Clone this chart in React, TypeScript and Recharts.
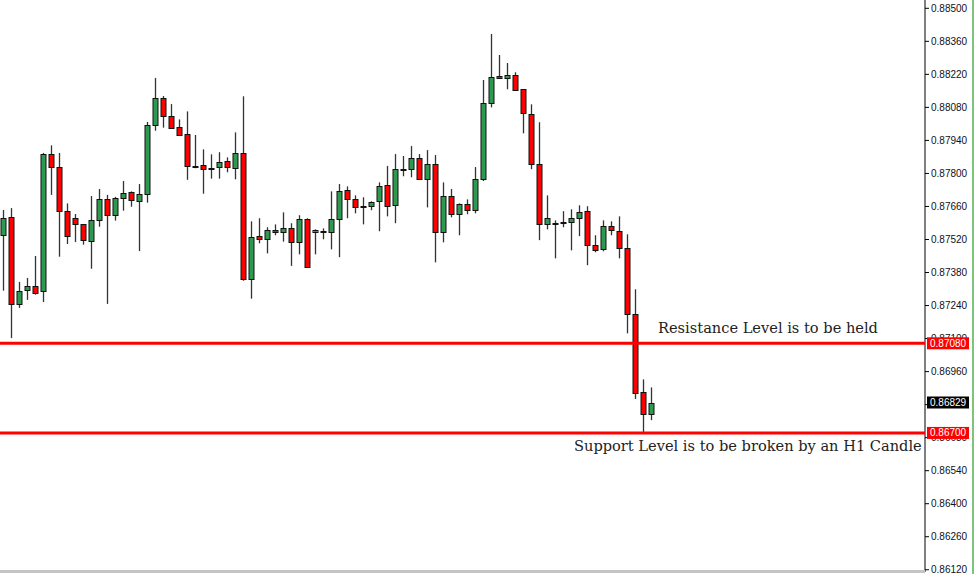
import { ComposedChart, Bar, XAxis, YAxis, ReferenceLine } from "recharts";

// H1 candles
const opens = [
  0.87536, 0.87614, 0.87244, 0.87303, 0.87322, 0.87299, 0.87881, 0.87826, 0.8764, 0.8761,
  0.87584, 0.87511, 0.876, 0.8769, 0.87621, 0.87695, 0.8772, 0.87682, 0.87712, 0.88004,
  0.88118, 0.88042, 0.87996, 0.87966, 0.8783, 0.87834, 0.87822, 0.87826, 0.87851, 0.87822,
  0.87885, 0.87351, 0.87534, 0.87521, 0.87559, 0.8755, 0.87567, 0.87508, 0.87606, 0.8755,
  0.8755, 0.8755, 0.87606, 0.87729, 0.8769, 0.87661, 0.87661, 0.87682, 0.8775, 0.87665,
  0.87813, 0.87818, 0.87864, 0.87775, 0.87839, 0.8755, 0.87703, 0.87627, 0.87669, 0.87644,
  0.87775, 0.88097, 0.88212, 0.88203, 0.88216, 0.88157, 0.88051, 0.87839, 0.87584, 0.87589,
  0.87589, 0.87593, 0.8761, 0.8764, 0.87495, 0.87478, 0.87576, 0.87555, 0.87483, 0.87205,
  0.86875, 0.86781,
];
const highs = [
  0.87645, 0.87653, 0.8734, 0.87357, 0.8745, 0.87887, 0.87919, 0.87887, 0.87673, 0.87628,
  0.87586, 0.87704, 0.87734, 0.87709, 0.87701, 0.87768, 0.87724, 0.87755, 0.88018, 0.88205,
  0.88128, 0.88094, 0.88029, 0.88063, 0.87963, 0.87902, 0.87881, 0.8789, 0.87868, 0.87974,
  0.88127, 0.87597, 0.8761, 0.87572, 0.87584, 0.87635, 0.87589, 0.87623, 0.8761, 0.87563,
  0.87567, 0.87724, 0.87755, 0.87745, 0.87707, 0.87699, 0.87682, 0.87762, 0.87832, 0.87882,
  0.87874, 0.87916, 0.87882, 0.87899, 0.87878, 0.87762, 0.87734, 0.87673, 0.8769, 0.87827,
  0.88196, 0.88391, 0.88302, 0.88268, 0.88229, 0.88157, 0.88093, 0.88017, 0.87707, 0.87601,
  0.8764, 0.87648, 0.87665, 0.87661, 0.87538, 0.87601, 0.87597, 0.87618, 0.87542, 0.87309,
  0.86927, 0.86893,
];
const lows = [
  0.87303, 0.87102, 0.8723, 0.87264, 0.87286, 0.87255, 0.87709, 0.87447, 0.87501, 0.87509,
  0.87498, 0.87396, 0.87574, 0.87247, 0.876, 0.87642, 0.87659, 0.87471, 0.87676, 0.87981,
  0.87994, 0.87991, 0.87962, 0.87773, 0.87822, 0.87714, 0.87778, 0.87778, 0.87805, 0.87775,
  0.87345, 0.87269, 0.87504, 0.87461, 0.87538, 0.87511, 0.87408, 0.87457, 0.87402, 0.87457,
  0.87521, 0.87478, 0.87445, 0.8761, 0.87631, 0.87584, 0.87644, 0.87555, 0.87618, 0.87589,
  0.87788, 0.87784, 0.87775, 0.87656, 0.87423, 0.87508, 0.87614, 0.87538, 0.87627, 0.87631,
  0.87768, 0.8808, 0.88203, 0.88157, 0.88152, 0.8797, 0.87818, 0.87517, 0.87563, 0.8744,
  0.87572, 0.87474, 0.87534, 0.87411, 0.87466, 0.8747, 0.87538, 0.8744, 0.87122, 0.86844,
  0.86703, 0.86754,
];
const closes = [
  0.8761, 0.87244, 0.873, 0.87322, 0.87294, 0.87881, 0.87824, 0.87638, 0.87532, 0.87583,
  0.87515, 0.87601, 0.8769, 0.87621, 0.87695, 0.87716, 0.87686, 0.87712, 0.88004, 0.88118,
  0.88042, 0.87991, 0.87962, 0.8783, 0.87827, 0.87818, 0.87818, 0.87847, 0.87826, 0.87885,
  0.87351, 0.87529, 0.87521, 0.87559, 0.8755, 0.87567, 0.87508, 0.87606, 0.87402, 0.87559,
  0.87555, 0.87606, 0.87724, 0.8769, 0.87656, 0.87658, 0.87678, 0.87745, 0.87661, 0.87818,
  0.87818, 0.87864, 0.87775, 0.87839, 0.8755, 0.87703, 0.87627, 0.87669, 0.87644, 0.87775,
  0.88097, 0.88208, 0.88203, 0.88216, 0.88152, 0.88055, 0.87839, 0.87584, 0.8761, 0.87584,
  0.87593, 0.8761, 0.87635, 0.87495, 0.87474, 0.87576, 0.87559, 0.87483, 0.87205, 0.86872,
  0.86781, 0.86829,
];

const priceTicks = [
  0.8612, 0.8626, 0.864, 0.8654, 0.8668, 0.8682, 0.8696, 0.871, 0.8724, 0.8738, 0.8752,
  0.8766, 0.878, 0.8794, 0.8808, 0.8822, 0.8836, 0.885,
];

const resistanceLevel = 0.8708;
const supportLevel = 0.867;
const lastPrice = 0.86829;

const data = opens.map((open, i) => ({
  i,
  open,
  close: closes[i],
  high: highs[i],
  low: lows[i],
  range: [lows[i], highs[i]],
}));

const GREEN = "#2e9a50";
const RED = "#ff0000";
const X_DOMAIN = [-0.4125, 115.2125];
const Y_DOMAIN = [0.861105, 0.885352];
const MARGIN = { top: 0, right: 0, bottom: 2, left: 0 };

const Candle = (props: any) => {
  const { x, y, width, height, payload } = props;
  const { open, close, high, low } = payload;
  const top = Math.min(y, y + height);
  const bottom = Math.max(y, y + height);
  const toY = (p: number) =>
    high === low ? top : top + ((high - p) / (high - low)) * (bottom - top);
  const cx = Math.round(x + width / 2) + 0.5;
  const up = close >= open;
  const bTop = Math.round(Math.min(toY(open), toY(close))) + 0.5;
  const bH = Math.max(1, Math.round(Math.abs(toY(open) - toY(close))));
  return (
    <g>
      <line x1={cx} x2={cx} y1={toY(high)} y2={toY(low)} stroke="#333" strokeWidth={1.3} />
      <rect
        x={cx - 2.5}
        y={bTop}
        width={5}
        height={bH}
        fill={up ? GREEN : RED}
        stroke="#111"
        strokeWidth={1}
      />
    </g>
  );
};

const PriceTag = (props: any) => {
  const { viewBox, value, bg } = props;
  if (!viewBox) return null;
  const left = viewBox.x + viewBox.width + 2;
  const cy = viewBox.y;
  return (
    <g>
      <rect x={left} y={cy - 6} width={42} height={12} fill={bg} />
      <text
        x={left + 3}
        y={cy + 3.5}
        fill="#fff"
        fontSize={10}
        fontFamily="'Liberation Sans', Arial, sans-serif"
      >
        {value.toFixed(5)}
      </text>
    </g>
  );
};

const Note = (props: any) => {
  const { viewBox, text, left, dy } = props;
  if (!viewBox) return null;
  return (
    <text
      x={left}
      y={viewBox.y + dy}
      fill="#222"
      fontSize={14.6}
      fontFamily="'DejaVu Serif', serif"
    >
      {text}
    </text>
  );
};

const Level = (props: any) => (
  <g>
    <Note {...props} />
    <PriceTag {...props} />
  </g>
);

export default function App() {
  return (
    <div style={{ position: "relative", width: 975, height: 574, background: "#fff" }}>
      <style>{"body{margin:0}"}</style>
      <ComposedChart width={975} height={574} data={data} margin={MARGIN}>
        <XAxis dataKey="i" type="number" domain={X_DOMAIN} allowDataOverflow hide />
        <YAxis
          orientation="right"
          width={50}
          domain={Y_DOMAIN}
          allowDataOverflow
          ticks={priceTicks}
          interval={0}
          tickFormatter={(v: number) => v.toFixed(5)}
          tickSize={4}
          tickLine={{ stroke: "#000" }}
          axisLine={{ stroke: "#000" }}
          tick={{ fontSize: 10, fill: "#101020", fontFamily: "'Liberation Sans', Arial, sans-serif" }}
        />
        <Bar dataKey="range" barSize={5} shape={<Candle />} isAnimationActive={false} />
      </ComposedChart>

      {/* levels drawn in a second chart on top so the tags cover the tick labels */}
      <div style={{ position: "absolute", left: 0, top: 0, pointerEvents: "none" }}>
        <ComposedChart width={975} height={574} data={data} margin={{ ...MARGIN, right: 50 }}>
          <XAxis dataKey="i" type="number" domain={X_DOMAIN} allowDataOverflow hide />
          <YAxis domain={Y_DOMAIN} allowDataOverflow hide />
          <ReferenceLine
            y={resistanceLevel}
            stroke={RED}
            strokeWidth={3}
            label={
              <Level value={resistanceLevel} bg={RED} text="Resistance Level is to be held" left={658} dy={-10.5} />
            }
          />
          <ReferenceLine
            y={supportLevel}
            stroke={RED}
            strokeWidth={3}
            label={
              <Level
                value={supportLevel}
                bg={RED}
                text="Support Level is to be broken by an H1 Candle"
                left={574}
                dy={18.5}
              />
            }
          />
          <ReferenceLine y={lastPrice} stroke="none" label={<PriceTag value={lastPrice} bg="#000" />} />
        </ComposedChart>
      </div>
      <div style={{ position: "absolute", left: 0, top: 570, width: 925, height: 3, background: "#c4c4c4" }} />
      <div style={{ position: "absolute", left: 972, top: 0, width: 2, height: 574, background: "#7cc47c" }} />
    </div>
  );
}
